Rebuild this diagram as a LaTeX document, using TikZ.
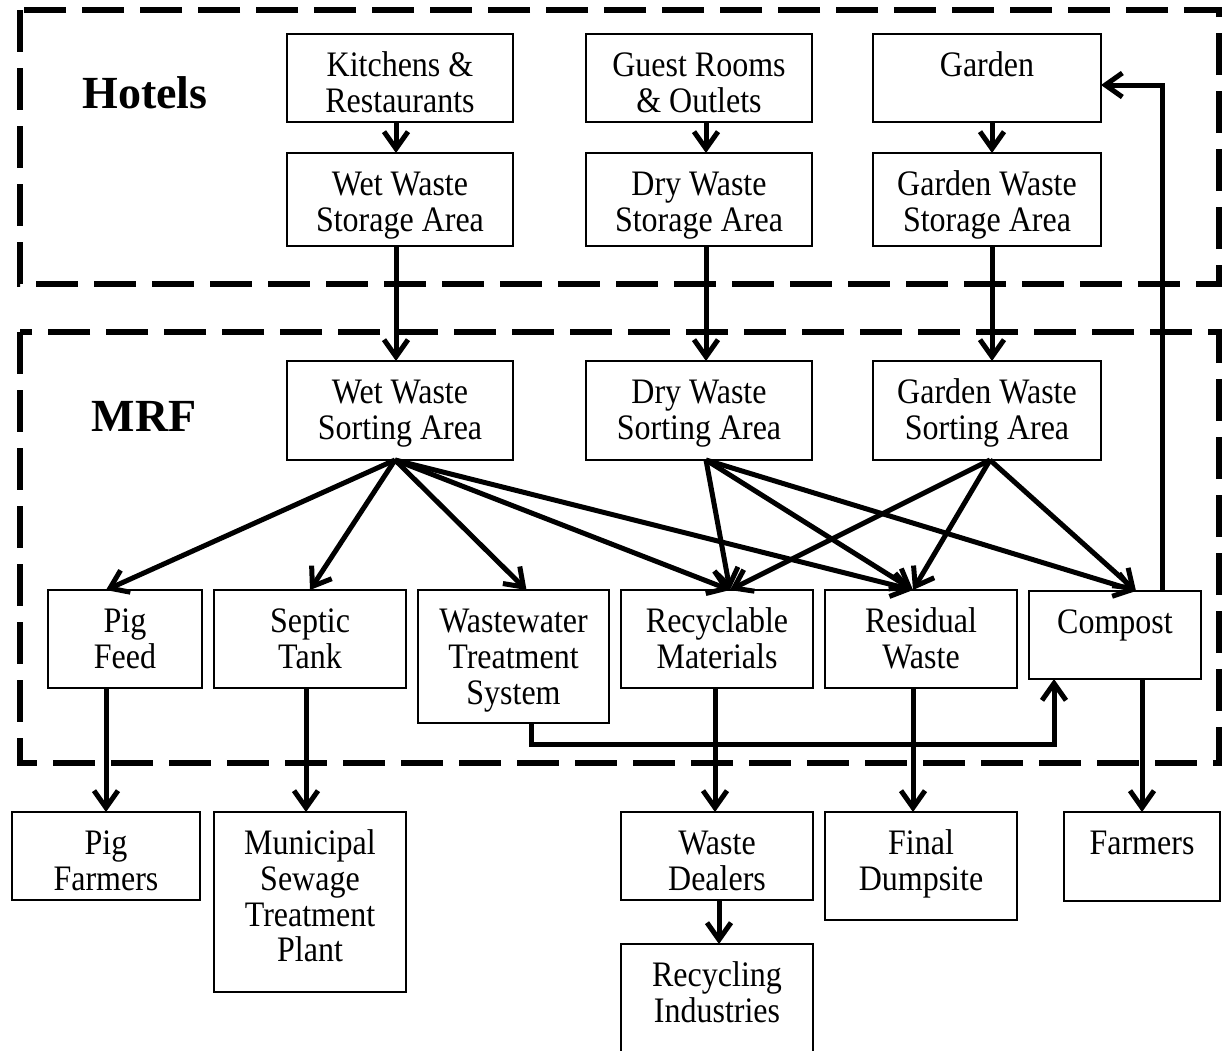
\documentclass[tikz,border=0pt]{standalone}
\usepackage{fontspec}
\setmainfont{Liberation Serif}
\usetikzlibrary{arrows.meta}

\tikzset{
  box/.style={draw, line width=1.3pt, fill=white, rectangle, inner sep=0pt, outer sep=0pt},
  lbl/.style={font=\fontsize{32}{32}\selectfont, align=center, inner sep=0pt, anchor=north,
              yscale=1.12, transform shape},
  zone/.style={line width=5.5pt, dash pattern=on 42pt off 16pt},
  title/.style={font=\fontsize{46}{50}\selectfont\bfseries, inner sep=0pt, anchor=base},
  flow/.style={line width=5pt, -{Straight Barb[length=17pt,width=24pt]}},
}

% a box given by its corners, with its text set from the top
\newcommand\wbox[6]{%
  \node[box, anchor=north west, minimum width={(#4)-(#2)}, minimum height={(#5)-(#3)}] (#1) at (#2,#3) {};
  \node[lbl] (#1-t) at ([yshift=-17pt]#1.north) {\strut #6};
}

\begin{document}
\begin{tikzpicture}[x=1pt, y=-1pt]
\useasboundingbox (0,0) rectangle (1222,1050);
\clip (0,0) rectangle (1222,1050);

% zones
\draw[zone] (20,10) rectangle (1219,284);
\draw[zone] (20,332) rectangle (1219,763);
\node[title] (hotels) at (145,108) {Hotels};
\node[title] (mrf) at (144,431) {MRF};

% sources in the hotels
\wbox{kit}{287}{34}{513}{122}{Kitchens \&\\Restaurants}
\wbox{gst}{586}{34}{812}{122}{Guest Rooms\\\& Outlets}
\wbox{gdn}{873}{34}{1101}{122}{Garden}
\wbox{wst}{287}{153}{513}{246}{Wet Waste\\Storage Area}
\wbox{dst}{586}{153}{812}{246}{Dry Waste\\Storage Area}
\wbox{gst2}{873}{153}{1101}{246}{Garden Waste\\Storage Area}

% sorting areas
\wbox{wso}{287}{361}{513}{460}{Wet Waste\\Sorting Area}
\wbox{dso}{586}{361}{812}{460}{Dry Waste\\Sorting Area}
\wbox{gso}{873}{361}{1101}{460}{Garden Waste\\Sorting Area}

% products
\wbox{pig}{48}{590}{202}{688}{Pig\\Feed}
\wbox{sep}{214}{590}{406}{688}{Septic\\Tank}
\wbox{wwt}{418}{590}{609}{723}{Wastewater\\Treatment\\System}
\wbox{rec}{621}{590}{813}{688}{Recyclable\\Materials}
\wbox{res}{825}{590}{1017}{688}{Residual\\Waste}
\wbox{cmp}{1029}{591}{1201}{679}{Compost}

% destinations
\wbox{pfa}{12}{812}{200}{900}{Pig\\Farmers}
\wbox{mun}{214}{812}{406}{992}{Municipal\\Sewage\\Treatment\\Plant}
\wbox{dlr}{621}{812}{813}{900}{Waste\\Dealers}
\wbox{dmp}{825}{812}{1017}{920}{Final\\Dumpsite}
\wbox{frm}{1064}{812}{1220}{901}{Farmers}
\wbox{ind}{621}{944}{813}{1070}{Recycling\\Industries}

% hotel flows
\draw[flow] ([xshift=-4pt]kit.south) -- ([xshift=-4pt]wst.north);
\draw[flow] ([xshift=7pt]gst.south) -- ([xshift=7pt]dst.north);
\draw[flow] ([xshift=5pt]gdn.south) -- ([xshift=5pt]gst2.north);
\draw[flow] ([xshift=-4pt]wst.south) -- ([xshift=-4pt]wso.north);
\draw[flow] ([xshift=7pt]dst.south) -- ([xshift=7pt]dso.north);
\draw[flow] ([xshift=5pt]gst2.south) -- ([xshift=5pt]gso.north);

% sorting outlets
\coordinate (wo) at ([xshift=-5pt]wso.south);
\coordinate (do) at ([xshift=7pt]dso.south);
\coordinate (go) at ([xshift=3pt]gso.south);
\coordinate (pig-in) at ([xshift=-19pt]pig.north);
\coordinate (sep-in) at (sep.north);
\coordinate (wwt-in) at ([xshift=13pt]wwt.north);
\coordinate (rec-in) at ([xshift=13pt]rec.north);
\coordinate (res-in) at ([xshift=-8pt]res.north);
\coordinate (cmp-in) at ([xshift=21pt]cmp.north);

\foreach \t in {pig-in, sep-in, wwt-in, rec-in, res-in}
  \draw[flow] (wo) -- (\t);
\foreach \t in {rec-in, res-in, cmp-in}
  \draw[flow] (do) -- (\t);
\foreach \t in {rec-in, res-in, cmp-in}
  \draw[flow] (go) -- (\t);

% treated water goes to the compost
\draw[flow] ([xshift=18pt]wwt.south) |- (1054,744) -- ([xshift=-61pt]cmp.south);
% compost back to the garden
\draw[flow] ([xshift=47pt]cmp.north) |- ([yshift=-7pt]gdn.east);

% outgoing flows
\draw[flow] ([xshift=-19pt]pig.south) -- ([xshift=-19pt]pig.south |- pfa.north);
\draw[flow] ([xshift=-4pt]sep.south) -- ([xshift=-4pt]mun.north);
\draw[flow] ([xshift=-2pt]rec.south) -- ([xshift=-2pt]dlr.north);
\draw[flow] ([xshift=-8pt]res.south) -- ([xshift=-8pt]dmp.north);
\draw[flow] ([xshift=27pt]cmp.south) -- ([xshift=27pt]cmp.south |- frm.north);
\draw[flow] ([xshift=2pt]dlr.south) -- ([xshift=2pt]ind.north);
\end{tikzpicture}
\end{document}
